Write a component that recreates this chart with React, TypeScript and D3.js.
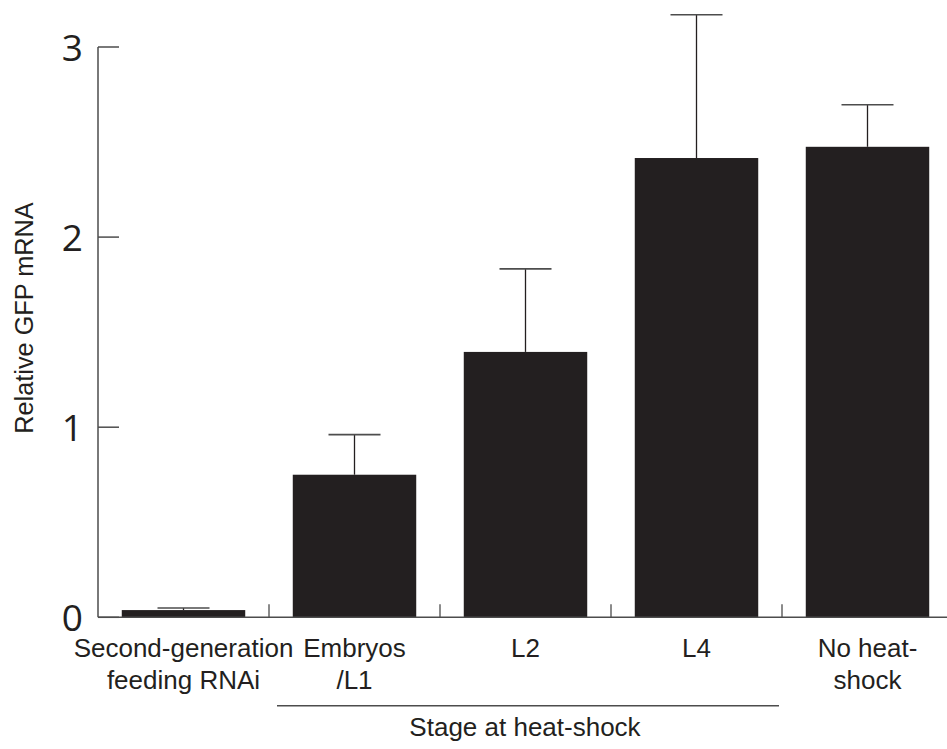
import React from "react";
import * as d3 from "d3";

const categories = ["Second-generation feeding RNAi", "Embryos /L1", "L2", "L4", "No heat-shock"];
const categoryLines = [["Second-generation", "feeding RNAi"], ["Embryos", "/L1"], ["L2"], ["L4"], ["No heat-", "shock"]];
const means = [0.038, 0.75, 1.396, 2.416, 2.475];
const errUpper = [0.049, 0.961, 1.833, 3.17, 2.696];
const yTicks = [0, 1, 2, 3];
const yTitle = "Relative GFP mRNA";
const groupTitle = "Stage at heat-shock";
const groupMembers = ["Embryos /L1", "L2", "L4"];

const W = 947;
const H = 749;
const INK = "#231f20";
const FONT = "'Liberation Sans', Arial, Helvetica, sans-serif";

export default function App() {
  const x0 = 98;
  const step = 171;
  const x = d3.scaleBand<string>().domain(categories).range([x0, x0 + step * categories.length]).padding(0);
  const y = d3.scaleLinear().domain([0, 3]).range([617.3, 47]);
  const barW = x.bandwidth() * 0.722;
  const capW = 52;

  const gStart = x(groupMembers[0])! + 8;
  const gEnd = x(groupMembers[groupMembers.length - 1])! + x.bandwidth() - 3;

  return (
    <svg width={W} height={H} style={{ position: "absolute", left: 0, top: 0, background: "#fff" }}>
      {categories.map((c, i) => {
        const cx = x(c)! + x.bandwidth() / 2;
        return (
          <g key={c}>
            <line x1={cx} x2={cx} y1={y(means[i])} y2={y(errUpper[i])} stroke={INK} strokeWidth={1.3} />
            <line x1={cx - capW / 2} x2={cx + capW / 2} y1={y(errUpper[i])} y2={y(errUpper[i])} stroke="#4d4d4d" strokeWidth={1.6} />
            <rect x={cx - barW / 2} y={y(means[i])} width={barW} height={y(0) - y(means[i])} fill={INK} />
          </g>
        );
      })}
      <line x1={x0} x2={x0} y1={y(3)} y2={y(0)} stroke="#4d4d4d" strokeWidth={1.5} />
      {yTicks.map((t) => (
        <g key={t}>
          <line x1={x0} x2={x0 + 21} y1={y(t)} y2={y(t)} stroke="#4d4d4d" strokeWidth={1.5} />
          <text x={83} y={y(t) + 14} textAnchor="end" fontFamily="'Open Sans', sans-serif" fontSize={37} fill={INK}>
            {t}
          </text>
        </g>
      ))}
      <line x1={x0} x2={W} y1={y(0)} y2={y(0)} stroke="#4d4d4d" strokeWidth={1.5} />
      {categories.slice(1).map((c) => (
        <line key={c} x1={x(c)!} x2={x(c)!} y1={y(0)} y2={y(0) - 13} stroke="#4d4d4d" strokeWidth={1.3} />
      ))}
      {categories.map((c, i) => (
        <text key={c} x={x(c)! + x.bandwidth() / 2} textAnchor="middle" fontFamily={FONT} fontSize={26} fill={INK}>
          {categoryLines[i].map((l, j) => (
            <tspan key={j} x={x(c)! + x.bandwidth() / 2} y={657 + j * 31.5}>
              {l}
            </tspan>
          ))}
        </text>
      ))}
      <line x1={gStart} x2={gEnd} y1={705.7} y2={705.7} stroke="#4d4d4d" strokeWidth={1.4} />
      <text x={525} y={736} textAnchor="middle" fontFamily={FONT} fontSize={26} fill={INK}>
        {groupTitle}
      </text>
      <text transform={`translate(33, 318) rotate(-90)`} textAnchor="middle" fontFamily={FONT} fontSize={25.3} fill={INK}>
        {yTitle}
      </text>
    </svg>
  );
}
